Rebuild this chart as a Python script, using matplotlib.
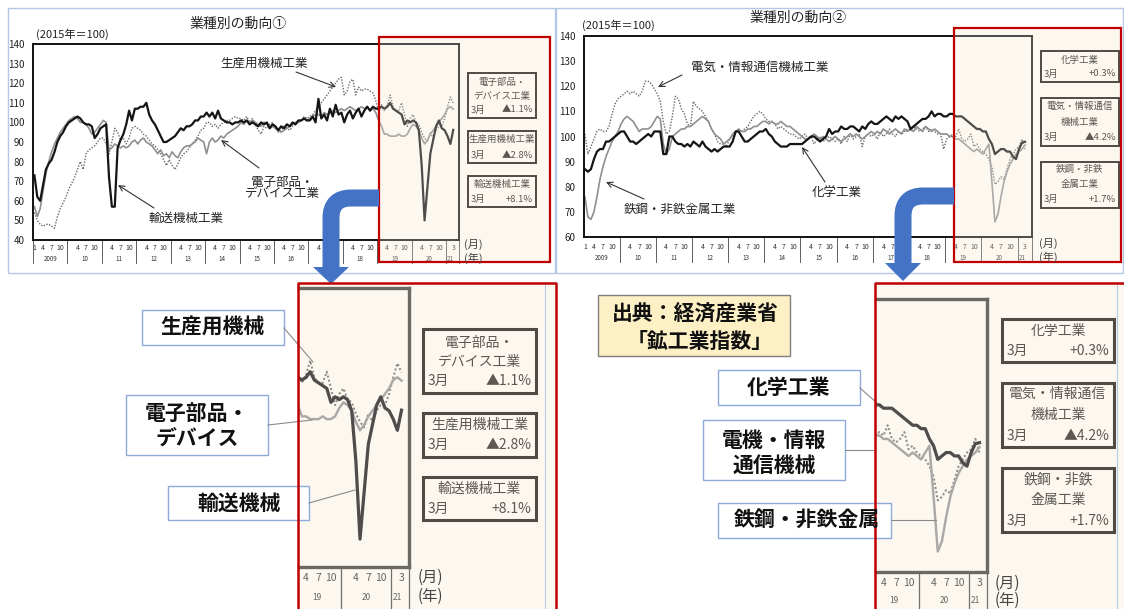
import numpy as np
import matplotlib
matplotlib.use('Agg')
import matplotlib.pyplot as plt
from matplotlib.patches import Rectangle, Polygon, PathPatch
from matplotlib.path import Path

plt.rcParams['font.family'] = ['Noto Sans CJK JP', 'DejaVu Sans']

# ---------------- data (monthly, 2009-01 .. 2021-03, 2015=100) ----------------
transport = [73, 62, 60, 68, 76, 79, 81, 85, 90, 93, 95, 98,
             100, 101, 102, 103, 102, 100, 99, 99, 98, 92, 94, 97,
             98, 99, 72, 57, 57, 87, 91, 94, 99, 106, 101, 107,
             107, 108, 108, 110, 104, 101, 99, 96, 93, 90, 90, 91,
             92, 93, 95, 97, 96, 98, 98, 99, 101, 101, 103, 103,
             105, 103, 105, 102, 106, 102, 101, 100, 100, 99, 100, 100,
             101, 100, 101, 99, 100, 99, 98, 100, 99, 100, 97, 99,
             98, 96, 98, 97, 99, 98, 100, 99, 101, 101, 102, 101,
             101, 103, 100, 112, 102, 104, 101, 107, 103, 109, 104, 105,
             100, 104, 106, 102, 105, 107, 103, 106, 108, 106, 108, 107,
             107, 108, 107, 108, 110, 107, 106, 105, 104, 99, 101, 100,
             101, 100, 96, 78, 50, 67, 84, 91, 98, 101, 97, 96,
             93, 89, 96.2]
electronic = [57, 52, 56, 65, 74, 80, 85, 89, 92, 95, 97, 99,
              101, 102, 103, 102, 100, 100, 99, 97, 94, 95, 97, 99,
              101, 100, 86, 87, 89, 88, 87, 88, 87, 88, 90, 91,
              89, 91, 92, 90, 89, 88, 86, 84, 86, 83, 84, 82,
              85, 83, 82, 85, 87, 88, 88, 89, 90, 92, 91, 90,
              84, 90, 92, 90, 91, 93, 92, 94, 95, 96, 97, 98,
              100, 99, 101, 100, 101, 100, 99, 98, 100, 99, 97, 98,
              97, 96, 95, 96, 97, 98, 99, 100, 100, 101, 102, 101,
              102, 103, 104, 104, 103, 105, 104, 105, 106, 105, 106, 107,
              106, 107, 108, 107, 106, 107, 108, 107, 108, 106, 107, 105,
              101, 98, 94, 94, 93, 93, 93, 94, 93, 93, 94, 97,
              99, 98, 96, 92, 89, 91, 94, 96, 98, 100, 102, 104,
              107, 108, 106.8]
production = [54, 50, 48, 47, 48, 48, 47, 46, 52, 56, 59, 62,
              66, 69, 72, 76, 80, 76, 84, 86, 87, 88, 90, 92,
              92, 89, 84, 90, 97, 95, 91, 92, 89, 92, 97, 98,
              97, 96, 94, 93, 91, 89, 88, 86, 84, 81, 78, 81,
              78, 76, 79, 82, 84, 85, 87, 89, 91, 93, 96, 97,
              100, 100, 98, 99, 97, 99, 100, 101, 101, 102, 103, 102,
              102, 101, 103, 100, 102, 99, 96, 94, 98, 97, 99, 100,
              97, 95, 96, 98, 97, 96, 98, 99, 100, 101, 103, 102,
              103, 104, 106, 108, 110, 112, 114, 116, 118, 120, 122, 123,
              114, 116, 121, 122, 114, 118, 116, 117, 117, 116, 115, 111,
              105, 109, 106, 109, 114, 108, 106, 106, 110, 104, 98, 102,
              104, 100, 99, 95, 92, 90, 95, 92, 96, 98, 98, 102,
              108, 113, 109.8]

chemical = [87, 86, 87, 91, 94, 95, 95, 98, 98, 99, 100, 101,
            102, 102, 100, 98, 98, 97, 98, 99, 100, 101, 100, 102,
            102, 102, 93, 93, 100, 100, 98, 97, 97, 96, 97, 96,
            98, 97, 96, 98, 96, 95, 94, 95, 94, 95, 96, 96,
            96, 98, 102, 102, 100, 98, 98, 99, 100, 101, 102, 102,
            103, 101, 100, 98, 97, 96, 96, 96, 97, 97, 97, 97,
            97, 98, 99, 100, 100, 99, 98, 99, 100, 103, 101, 102,
            102, 104, 103, 103, 104, 104, 103, 102, 104, 103, 105, 106,
            105, 105, 106, 107, 108, 107, 106, 108, 107, 108, 107, 106,
            103, 104, 105, 106, 107, 107, 108, 110, 108, 109, 109, 108,
            108, 109, 109, 108, 108, 108, 107, 106, 105, 104, 103, 103,
            102, 102, 99, 97, 93, 94, 95, 95, 94, 94, 92, 91,
            95, 97.6, 97.9]
electric = [101, 93, 96, 99, 102, 103, 102, 102, 104, 109, 113, 115,
            116, 117, 118, 117, 118, 117, 116, 118, 122, 122, 121, 119,
            117, 114, 106, 101, 102, 108, 116, 115, 111, 109, 105, 104,
            114, 112, 111, 110, 108, 106, 103, 101, 98, 97, 97, 96,
            99, 100, 102, 102, 102, 103, 104, 106, 108, 109, 110, 109,
            107, 106, 106, 105, 103, 104, 103, 102, 101, 101, 100, 99,
            100, 101, 99, 100, 97, 99, 100, 98, 99, 100, 99, 98,
            99, 97, 100, 98, 101, 99, 100, 101, 96, 100, 101, 100,
            101, 99, 102, 100, 101, 103, 101, 100, 102, 101, 102, 103,
            102, 104, 103, 102, 103, 104, 102, 103, 102, 101, 101, 95,
            99, 100, 101, 100, 103, 99, 98, 99, 101, 96, 97, 95,
            94, 93, 91, 88, 81, 82, 84, 83, 87, 91, 93, 95,
            96, 99, 95]
steel = [76, 68, 67, 70, 76, 83, 88, 92, 95, 98, 100, 102,
         105, 107, 108, 107, 106, 104, 102, 103, 103, 103, 104, 106,
         108, 107, 97, 93, 95, 100, 101, 102, 103, 103, 104, 104,
         105, 106, 107, 108, 107, 106, 103, 101, 100, 99, 97, 98,
         99, 101, 102, 103, 102, 102, 103, 103, 104, 104, 105, 106,
         106, 105, 106, 105, 105, 106, 105, 104, 104, 103, 102, 101,
         100, 99, 99, 100, 101, 100, 99, 100, 99, 98, 99, 100,
         99, 98, 99, 100, 101, 100, 101, 100, 99, 100, 101, 102,
         101, 102, 101, 103, 102, 101, 102, 103, 102, 101, 103, 102,
         103, 102, 104, 103, 102, 104, 103, 102, 103, 102, 101, 101,
         101, 100, 100, 99, 99, 98, 97, 96, 95, 94, 95, 94,
         93, 95, 97, 82, 66, 69, 76, 82, 86, 89, 91, 93,
         94, 95, 96.6]

months = np.arange(len(transport))
year_labels = ['2009', '10', '11', '12', '13', '14', '15', '16', '17', '18', '19', '20', '21']

# ---------------- figure / helpers ----------------
W, H = 1124, 609
fig = plt.figure(figsize=(W / 100, H / 100), dpi=100)
fig.patch.set_facecolor('white')


def px_axes(x0, y0, x1, y1, z=0):
    return fig.add_axes([x0 / W, 1 - y1 / H, (x1 - x0) / W, (y1 - y0) / H], zorder=z)


bg = px_axes(0, 0, W, H, z=-5)
fg = px_axes(0, 0, W, H, z=10)
for a in (bg, fg):
    a.set_xlim(0, W)
    a.set_ylim(H, 0)
    a.axis('off')
    a.patch.set_alpha(0)

BEIGE = '#fcf8f0'
RED = '#c00000'
BLUE = '#4472c4'
LBLUE = '#b4c7e7'
red_regions = [(379, 37, 550, 262), (954, 28, 1121, 262), (298, 283, 556, 612), (875, 283, 1127, 612)]
for x0, y0, x1, y1 in red_regions:
    bg.add_patch(Rectangle((x0, y0), x1 - x0, y1 - y0, facecolor=BEIGE, edgecolor='none'))

# panel borders (top)
bg.add_patch(Rectangle((8, 8), 547, 265, fill=False, edgecolor=LBLUE, lw=1.0))
bg.add_patch(Rectangle((556, 8), 567, 265, fill=False, edgecolor=LBLUE, lw=1.0))


def month_axis(ax, xlim, fs_m, fs_y, ym, yy, ysep, lw=0.6):
    tr = ax.get_xaxis_transform()
    for k in range(13):
        base = 12 * k
        if xlim[0] <= base - 0.5 <= xlim[1]:
            ax.plot([base - 0.5, base - 0.5], [0, ysep], transform=tr, clip_on=False,
                    color='#444444', lw=lw)
        labs = [(0, '1'), (3, '4'), (6, '7'), (9, '10')] if k < 12 else [(2, '3')]
        for off, lab in labs:
            if off == 0 and k > 0:
                continue
            p = base + off
            if xlim[0] <= p <= xlim[1]:
                ax.text(p, ym, lab, transform=tr, ha='center', va='center', fontsize=fs_m,
                        color='#333333', clip_on=False)
        yc = base + (5.5 if k < 12 else 1.0)
        if xlim[0] + 1 <= yc <= xlim[1]:
            ax.text(yc, yy, year_labels[k], transform=tr, ha='center', va='center',
                    fontsize=fs_y, color='#333333', clip_on=False)
    ax.plot([1, 1], [0, ysep], transform=ax.transAxes, clip_on=False, color='#444444', lw=lw)


def draw_lines(ax, black, grey, dotted, scale=1.0):
    ax.plot(months, dotted, color='#6a6a6a', lw=1.0 * scale, ls=(0, (1, 1.1)))
    ax.plot(months, grey, color='#8f8f8f', lw=1.2 * scale)
    ax.plot(months, black, color='#151515', lw=1.6 * scale)


def setup(ax, xlim, ylim, yticks, frame_lw, frame_col, hide_left=False, show_y=True):
    ax.set_facecolor('none')
    ax.set_xlim(*xlim)
    ax.set_ylim(*ylim)
    ax.set_xticks([])
    if show_y:
        ax.set_yticks(yticks)
        ax.tick_params(axis='y', length=0, labelsize=7, pad=6, labelcolor='#222222')
    else:
        ax.set_yticks([])
    for s in ax.spines.values():
        s.set_linewidth(frame_lw)
        s.set_color(frame_col)
    if hide_left:
        ax.spines['left'].set_visible(False)


# ---------------- top-left chart ----------------
ax1 = px_axes(33, 44, 459, 240)
xl1 = (-0.5, 148)
setup(ax1, xl1, (40, 140), range(40, 141, 10), 1.4, '#111111')
draw_lines(ax1, transport, electronic, production)
month_axis(ax1, xl1, 5, 4.5, -0.04, -0.097, -0.117)

# ---------------- top-right chart ----------------
ax2 = px_axes(584, 36, 1032, 237)
xl2 = (-0.3, 148.3)
setup(ax2, xl2, (60, 140), range(60, 141, 10), 1.4, '#111111')
draw_lines(ax2, chemical, steel, electric)
month_axis(ax2, xl2, 5, 4.5, -0.05, -0.105, -0.125)

# ---------------- bottom-left magnified ----------------
ax3 = px_axes(299, 288, 409, 567)
xl3 = (121.3, 147.8)
setup(ax3, xl3, (40, 140), [], 2.4, '#3d3833', hide_left=True, show_y=False)
draw_lines(ax3, transport, electronic, production, scale=1.45)
month_axis(ax3, xl3, 7.5, 6, -0.04, -0.108, -0.15, lw=0.9)

# ---------------- bottom-right magnified ----------------
ax4 = px_axes(876, 299, 987, 572)
xl4 = (121.2, 147.8)
setup(ax4, xl4, (60, 140), [], 2.4, '#3d3833', hide_left=True, show_y=False)
draw_lines(ax4, chemical, steel, electric, scale=1.45)
month_axis(ax4, xl4, 7.5, 6, -0.04, -0.103, -0.14, lw=0.9)

# ---------------- overlays on red regions ----------------
for x0, y0, x1, y1 in red_regions:
    fg.add_patch(Rectangle((x0, y0), x1 - x0, y1 - y0, facecolor=BEIGE, edgecolor='none', alpha=0.25))

fg.plot([545, 545], [283, 609], color=LBLUE, lw=0.8)
fg.plot([1117, 1117], [283, 609], color=LBLUE, lw=0.8)


def T(x, y, s, fs, ha='center', color='#222222', weight='normal', **kw):
    fg.text(x, y, s, fontsize=fs, ha=ha, va='center', color=color, fontweight=weight, **kw)


# titles and units
T(238, 24, '業種別の動向①', 10)
T(36, 34, '(2015年＝100)', 8, ha='left')
T(798, 18, '業種別の動向②', 10)
T(582, 25, '(2015年＝100)', 8, ha='left')
for (x, y1, y2, fs) in [(464, 244, 258, 8), (1039, 243, 257, 8), (418, 577, 596, 11), (995, 583, 600, 11)]:
    T(x, y1, '(月)', fs, ha='left', color='#444444')
    T(x, y2, '(年)', fs, ha='left', color='#444444')

# chart annotations
arw = dict(arrowstyle='->', lw=0.8, color='#333333', shrinkA=0, shrinkB=0)
T(264, 63, '生産用機械工業', 9)
fg.annotate('', xy=(336, 87), xytext=(296, 72), arrowprops=arw)
T(282, 182, '電子部品・', 9)
T(282, 194, 'デバイス工業', 9)
fg.annotate('', xy=(221, 140), xytext=(259, 168), arrowprops=arw)
T(186, 218, '輸送機械工業', 9)
fg.annotate('', xy=(118, 185), xytext=(154, 208), arrowprops=arw)

T(760, 67, '電気・情報通信機械工業', 9)
fg.annotate('', xy=(658, 87), xytext=(682, 75), arrowprops=arw)
T(680, 209, '鉄鋼・非鉄金属工業', 9)
fg.annotate('', xy=(606, 182), xytext=(644, 199), arrowprops=arw)
T(837, 193, '化学工業', 9)
fg.annotate('', xy=(802, 147), xytext=(825, 182), arrowprops=arw)

# info boxes
BOX_EC = '#4f4a45'
BOX_TC = '#5c5752'


def info_box(x0, y0, x1, y1, name_lines, month, change, fs, lw, name_ys, val_y):
    fg.add_patch(Rectangle((x0, y0), x1 - x0, y1 - y0, facecolor=BEIGE, edgecolor=BOX_EC, lw=lw))
    cx = (x0 + x1) / 2
    for s, yy in zip(name_lines, name_ys):
        T(cx, yy, s, fs, color=BOX_TC)
    pad = (x1 - x0) * 0.04
    T(x0 + pad, val_y, month, fs, ha='left', color=BOX_TC)
    T(x1 - pad, val_y, change, fs, ha='right', color=BOX_TC)


# top-left boxes
info_box(468, 73, 536, 118, ['電子部品・', 'デバイス工業'], '3月', '▲1.1%', 6.8, 1.4, [82, 96], 110)
info_box(468, 131, 536, 163, ['生産用機械工業'], '3月', '▲2.8%', 6.8, 1.4, [139], 155)
info_box(468, 176, 536, 207, ['輸送機械工業'], '3月', '+8.1%', 6.8, 1.4, [184], 199)
# top-right boxes
info_box(1041, 51, 1119, 82, ['化学工業'], '3月', '+0.3%', 6.8, 1.4, [60], 74)
info_box(1041, 98, 1119, 146, ['電気・情報通信', '機械工業'], '3月', '▲4.2%', 6.8, 1.4, [106, 122], 137)
info_box(1041, 162, 1119, 208, ['鉄鋼・非鉄', '金属工業'], '3月', '+1.7%', 6.8, 1.4, [169, 184], 199)
# bottom-left boxes
info_box(423, 329, 536, 393, ['電子部品・', 'デバイス工業'], '3月', '▲1.1%', 10, 2.2, [343, 362], 381)
info_box(423, 413, 536, 457, ['生産用機械工業'], '3月', '▲2.8%', 10, 2.2, [425], 445)
info_box(423, 477, 536, 520, ['輸送機械工業'], '3月', '+8.1%', 10, 2.2, [489], 509)
# bottom-right boxes
info_box(1002, 319, 1114, 362, ['化学工業'], '3月', '+0.3%', 10, 2.2, [331], 351)
info_box(1002, 383, 1114, 447, ['電気・情報通信', '機械工業'], '3月', '▲4.2%', 10, 2.2, [394, 415], 436)
info_box(1002, 468, 1114, 532, ['鉄鋼・非鉄', '金属工業'], '3月', '+1.7%', 10, 2.2, [479, 500], 521)

# callout labels (bottom)
def callout(x0, y0, x1, y1, lines, ys, cx, leader):
    fg.add_patch(Rectangle((x0, y0), x1 - x0, y1 - y0, facecolor='white', edgecolor='#8eaadb', lw=1.0))
    for s, yy in zip(lines, ys):
        T(cx, yy, s, 15, color='#111111', weight='bold')
    fg.plot([leader[0], leader[2]], [leader[1], leader[3]], color='#8a8a8a', lw=0.8)


callout(142, 310, 284, 345, ['生産用機械'], [327], 213, (284, 328, 313, 362))
callout(126, 395, 268, 455, ['電子部品・', 'デバイス'], [413, 438], 197, (268, 425, 312, 420))
callout(168, 486, 309, 520, ['輸送機械'], [503], 239, (309, 503, 355, 490))
callout(718, 370, 860, 405, ['化学工業'], [387], 789, (860, 388, 877, 403))
callout(703, 420, 845, 480, ['電機・情報', '通信機械'], [440, 465], 774, (845, 450, 876, 450))
callout(718, 503, 891, 538, ['鉄鋼・非鉄金属'], [520], 807, (891, 520, 936, 520))

# source box
fg.add_patch(Rectangle((598, 295), 192, 61, facecolor='#fdf0c5', edgecolor='#7f7f7f', lw=1.0))
T(695, 314, '出典：経済産業省', 15, color='#111111', weight='bold')
T(700, 342, '「鉱工業指数」', 15, color='#111111', weight='bold')

# red outlines
fg.add_patch(Rectangle((379, 37), 171, 225, fill=False, edgecolor=RED, lw=1.6))
fg.add_patch(Rectangle((954, 28), 167, 234, fill=False, edgecolor=RED, lw=1.6))
fg.plot([298, 298, 556, 556], [612, 283, 283, 612], color=RED, lw=1.8)
fg.plot([875, 875, 1127], [612, 283, 283], color=RED, lw=1.8)


# blue bent arrows
def blue_arrow(x_start, y_h, x_v, y_end, tip_y, r=20, w=17):
    verts = [(x_start, y_h), (x_v + r, y_h), (x_v, y_h), (x_v, y_h + r), (x_v, y_end + 1)]
    codes = [Path.MOVETO, Path.LINETO, Path.CURVE3, Path.CURVE3, Path.LINETO]
    fg.add_patch(PathPatch(Path(verts, codes), fill=False, lw=w * 0.72, edgecolor=BLUE,
                           capstyle='butt', joinstyle='round'))
    fg.add_patch(Polygon([(x_v - 18, y_end), (x_v + 18, y_end), (x_v, tip_y)], closed=True,
                         facecolor=BLUE, edgecolor='none'))


blue_arrow(379, 198, 331, 267, 284)
blue_arrow(954, 196, 903, 263, 281)

fig.savefig('out.png', dpi=100, facecolor='white')
